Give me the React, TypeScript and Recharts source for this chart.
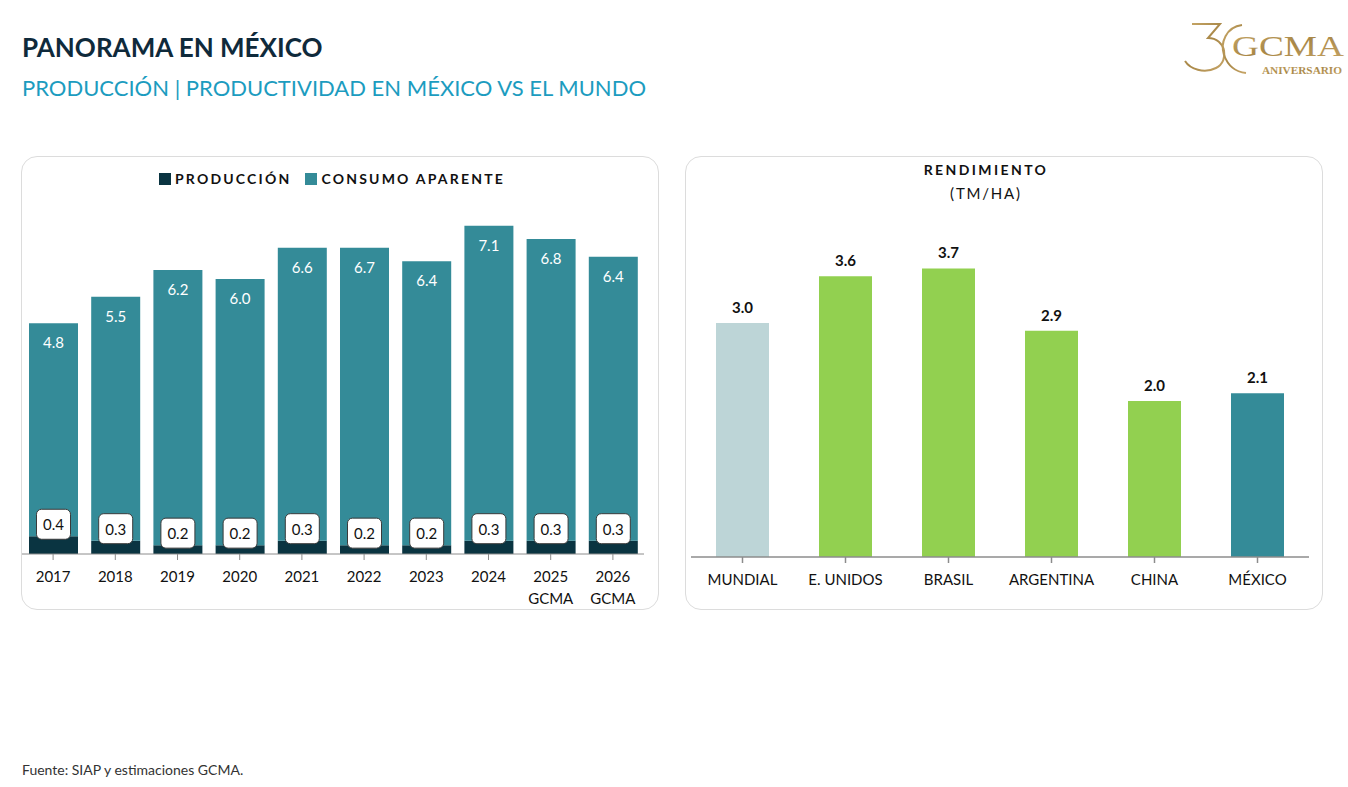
import { BarChart, Bar, XAxis, YAxis, LabelList, Cell } from "recharts";

// Producción y consumo aparente (millones de toneladas)
const years = ["2017", "2018", "2019", "2020", "2021", "2022", "2023", "2024", "2025\nGCMA", "2026\nGCMA"];
const produccion = [0.4, 0.3, 0.2, 0.2, 0.3, 0.2, 0.2, 0.3, 0.3, 0.3];
const consumo = [4.8, 5.5, 6.2, 6.0, 6.6, 6.7, 6.4, 7.1, 6.8, 6.4];

// Rendimiento (TM/HA)
const paises = ["MUNDIAL", "E. UNIDOS", "BRASIL", "ARGENTINA", "CHINA", "MÉXICO"];
const rendimiento = [3.0, 3.6, 3.7, 2.9, 2.0, 2.1];

const DARK = "#0a3441";
const TEAL = "#348b98";
const GREEN = "#92d050";
const GREY_BLUE = "#bdd5d7";
const paisColors = [GREY_BLUE, GREEN, GREEN, GREEN, GREEN, TEAL];

const FONT = "Lato, 'Open Sans', sans-serif";

const prodData = years.map((year, i) => ({ year, produccion: produccion[i], consumo: consumo[i] }));
const rendData = paises.map((pais, i) => ({ pais, valor: rendimiento[i] }));

const panel: React.CSSProperties = {
  position: "absolute",
  top: 156,
  width: 638,
  height: 454,
  border: "1.5px solid #dcdcdc",
  borderRadius: 16,
  boxSizing: "border-box",
};

function YearTick({ x, y, payload }: any) {
  const lines = String(payload.value).split("\n");
  return (
    <g transform={`translate(${x},${y})`}>
      {lines.map((l, i) => (
        <text key={i} x={0} y={0} dy={16 + i * 22} textAnchor="middle" dominantBaseline="central"
          fill="#111" fontSize={15} fontFamily={FONT}>
          {l}
        </text>
      ))}
    </g>
  );
}

function PaisTick({ x, y, payload }: any) {
  return (
    <text x={x} y={y} dy={16} textAnchor="middle" dominantBaseline="central" fill="#111" fontSize={15} fontFamily={FONT}>
      {payload.value}
    </text>
  );
}

function ProdBoxLabel({ x, y, width, value }: any) {
  const cx = x + width / 2;
  const cy = y - 12;
  return (
    <g>
      <rect x={cx - 17} y={cy - 15} width={34} height={30} rx={5} fill="#fff" stroke="#3a3a3a" strokeWidth={1} />
      <text x={cx} y={cy} textAnchor="middle" dominantBaseline="central" fill="#111" fontSize={15} fontFamily={FONT}>
        {Number(value).toFixed(1)}
      </text>
    </g>
  );
}

function ConsumoLabel({ x, y, width, value }: any) {
  return (
    <text x={x + width / 2} y={y + 19} textAnchor="middle" dominantBaseline="central" fill="#fff" fontSize={15} fontFamily={FONT}>
      {Number(value).toFixed(1)}
    </text>
  );
}

function Logo() {
  return (
    <svg width={170} height={70} style={{ position: "absolute", left: 1180, top: 16 }}>
      <defs>
        <linearGradient id="gold" x1="0" y1="0" x2="1" y2="1">
          <stop offset="0" stopColor="#c9a96a" />
          <stop offset="0.5" stopColor="#a88747" />
          <stop offset="1" stopColor="#c7a567" />
        </linearGradient>
      </defs>
      <path d="M12 8 L40 8 L28 22 C46 22 50 45 36 52 C24 58 10 53 5 45" fill="none" stroke="url(#gold)" strokeWidth={2} />
      <path d="M62 9 C46 11 40 27 44 39 C48 50 56 56 66 57" fill="none" stroke="url(#gold)" strokeWidth={2} />
      <text x={52} y={40} fill="url(#gold)" fontSize={30} fontFamily="'Liberation Serif', serif" textLength={112} lengthAdjust="spacingAndGlyphs">
        GCMA
      </text>
      <text x={82} y={58} fill="url(#gold)" fontSize={10} fontWeight="bold" fontFamily="'Liberation Serif', serif" textLength={80} lengthAdjust="spacingAndGlyphs">
        ANIVERSARIO
      </text>
    </svg>
  );
}

export default function App() {
  return (
    <div style={{ position: "absolute", left: 0, top: 0, width: 1348, height: 787, background: "#fff", fontFamily: FONT }}>
      <div style={{ position: "absolute", left: 22, top: 31, fontSize: 26, fontWeight: 700, color: "#0f2a3b" }}>
        PANORAMA EN MÉXICO
      </div>
      <div style={{ position: "absolute", left: 22, top: 74, fontSize: 22, color: "#1c9cbf" }}>
        PRODUCCIÓN | PRODUCTIVIDAD EN MÉXICO VS EL MUNDO
      </div>
      <Logo />

      {/* panel izquierdo */}
      <div style={{ ...panel, left: 21 }} />
      <div style={{ position: "absolute", left: 13, top: 170, width: 638, display: "flex", justifyContent: "center", gap: 14,
        fontSize: 14, fontWeight: 700, letterSpacing: 2.2, color: "#111" }}>
        <span style={{ display: "flex", alignItems: "center", gap: 4 }}>
          <span style={{ width: 12, height: 12, background: DARK, display: "inline-block" }} />PRODUCCIÓN
        </span>
        <span style={{ display: "flex", alignItems: "center", gap: 4 }}>
          <span style={{ width: 12, height: 12, background: TEAL, display: "inline-block" }} />CONSUMO APARENTE
        </span>
      </div>
      <div style={{ position: "absolute", left: 21, top: 156 }}>
        <BarChart width={640} height={455} data={prodData} margin={{ top: 43, right: 17, bottom: 27, left: 1 }} barSize={49}>
          <YAxis hide domain={[0, 8]} />
          <XAxis dataKey="year" interval={0} tickSize={6} tickMargin={0} tick={<YearTick />}
            stroke="#8c8c8c" tickLine={{ stroke: "#8c8c8c" }} />
          <Bar dataKey="produccion" stackId="a" fill={DARK} isAnimationActive={false}>
            <LabelList dataKey="produccion" content={<ProdBoxLabel />} />
          </Bar>
          <Bar dataKey="consumo" stackId="a" fill={TEAL} isAnimationActive={false}>
            <LabelList dataKey="consumo" content={<ConsumoLabel />} />
          </Bar>
        </BarChart>
      </div>

      {/* panel derecho */}
      <div style={{ ...panel, left: 685 }} />
      <div style={{ position: "absolute", left: 685, top: 161, width: 602, textAlign: "center", color: "#111" }}>
        <div style={{ fontSize: 14, fontWeight: 700, letterSpacing: 2.4 }}>RENDIMIENTO</div>
        <div style={{ fontSize: 15, letterSpacing: 1.8, marginTop: 6 }}>(TM/HA)</div>
      </div>
      <div style={{ position: "absolute", left: 685, top: 156 }}>
        <BarChart width={640} height={455} data={rendData} margin={{ top: 89, right: 16, bottom: 24, left: 6 }} barSize={53}>
          <YAxis hide domain={[0, 4]} />
          <XAxis dataKey="pais" interval={0} tickSize={6} tickMargin={0} tick={<PaisTick />}
            stroke="#8c8c8c" strokeWidth={1.5} tickLine={{ stroke: "#8c8c8c" }} />
          <Bar dataKey="valor" isAnimationActive={false}>
            {rendData.map((_, i) => (
              <Cell key={i} fill={paisColors[i]} />
            ))}
            <LabelList dataKey="valor" position="top" offset={10} fill="#111" fontSize={15} fontWeight={700}
              fontFamily={FONT} formatter={(v: any) => Number(v).toFixed(1)} />
          </Bar>
        </BarChart>
      </div>

      <div style={{ position: "absolute", left: 22, top: 761, fontSize: 14, color: "#333" }}>
        Fuente: SIAP y estimaciones GCMA.
      </div>
    </div>
  );
}
